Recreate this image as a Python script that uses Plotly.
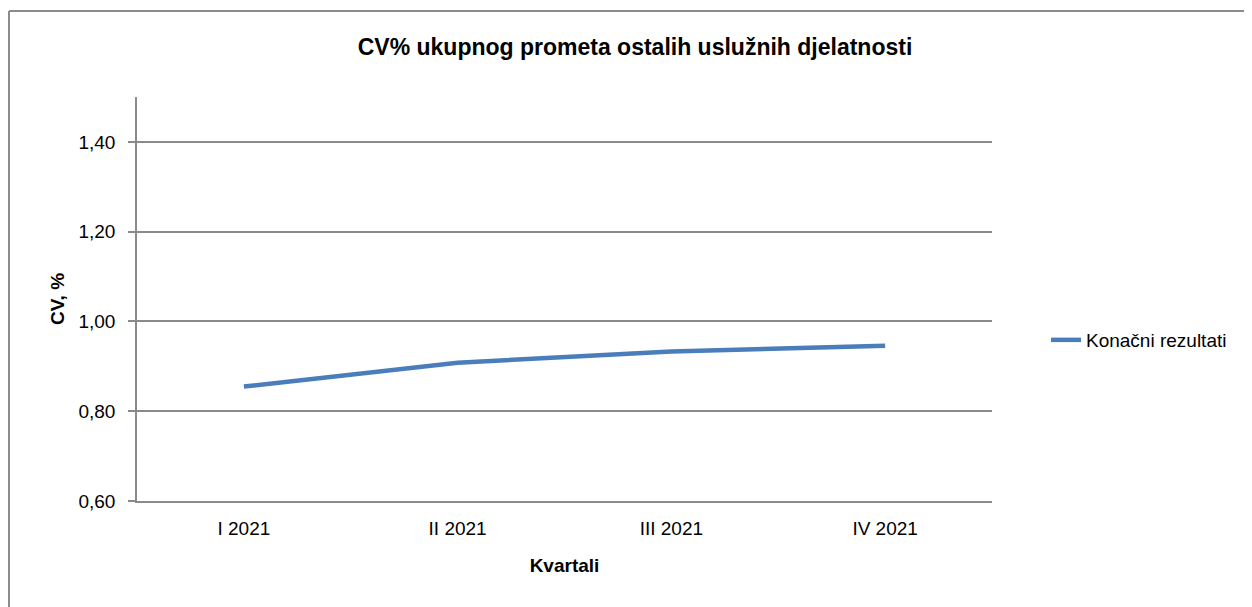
import plotly.graph_objects as go

categories = ["I 2021", "II 2021", "III 2021", "IV 2021"]
cv_values = [0.855, 0.908, 0.933, 0.946]
series_name = "Konačni rezultati"
title_text = "CV% ukupnog prometa ostalih uslužnih djelatnosti"
y_title = "CV, %"
x_title = "Kvartali"

W, H = 1244, 599
L, R, T, B = 129, 260, 89, 106
pw, ph = W - L - R, H - T - B

FONT = "Liberation Sans Narrow, Arial Narrow, Liberation Sans, Arial, sans-serif"
GRID = "#8a8a8a"

fig = go.Figure()
fig.add_trace(go.Scatter(
    x=categories, y=cv_values, mode="lines", name=series_name,
    line=dict(color="#4A7EBB", width=4.5),
))

def px_x(x):
    return (x - L) / pw

def px_y(y):
    return (H - B - y) / ph

fig.update_layout(
    width=W, height=H,
    margin=dict(l=L, r=R, t=T, b=B),
    paper_bgcolor="white", plot_bgcolor="white",
    separators=", ",
    font=dict(family=FONT, size=19, color="black"),
    title=dict(text="<b>" + title_text + "</b>", x=px_x(627), xref="paper",
               xanchor="center", y=1 - 39 / H, yanchor="middle",
               font=dict(size=23, family=FONT)),
    showlegend=True,
    legend=dict(x=px_x(1038), y=px_y(332), xanchor="left", yanchor="middle",
                font=dict(size=19, family=FONT), bgcolor="rgba(0,0,0,0)"),
    xaxis=dict(
        type="category", range=[-0.5, 3.5], showgrid=False,
        showline=True, linecolor=GRID, linewidth=1.5, ticks="",
        tickfont=dict(size=19), ticklabelstandoff=9,
        title=dict(text="<b>" + x_title + "</b>", font=dict(size=19), standoff=21),
        fixedrange=True,
    ),
    yaxis=dict(
        range=[0.6, 1.5], tick0=0.6, dtick=0.2, tickformat=".2f",
        showgrid=True, gridcolor=GRID, gridwidth=1.5,
        showline=True, linecolor=GRID, linewidth=1.5,
        ticks="outside", ticklen=7, tickcolor=GRID, tickwidth=1.5,
        tickfont=dict(size=19), zeroline=False, ticklabelstandoff=9,
        title=dict(text="<b>" + y_title + "</b>", font=dict(size=19), standoff=9),
        fixedrange=True,
    ),
    shapes=[
        dict(type="line", xref="paper", yref="paper", x0=px_x(1), x1=px_x(W + 5),
             y0=px_y(3), y1=px_y(3), line=dict(color="#8c8c8c", width=2)),
        dict(type="line", xref="paper", yref="paper", x0=px_x(1), x1=px_x(1),
             y0=px_y(3), y1=px_y(H + 5), line=dict(color="#8c8c8c", width=2)),
    ],
)

fig.write_html("out.html")
